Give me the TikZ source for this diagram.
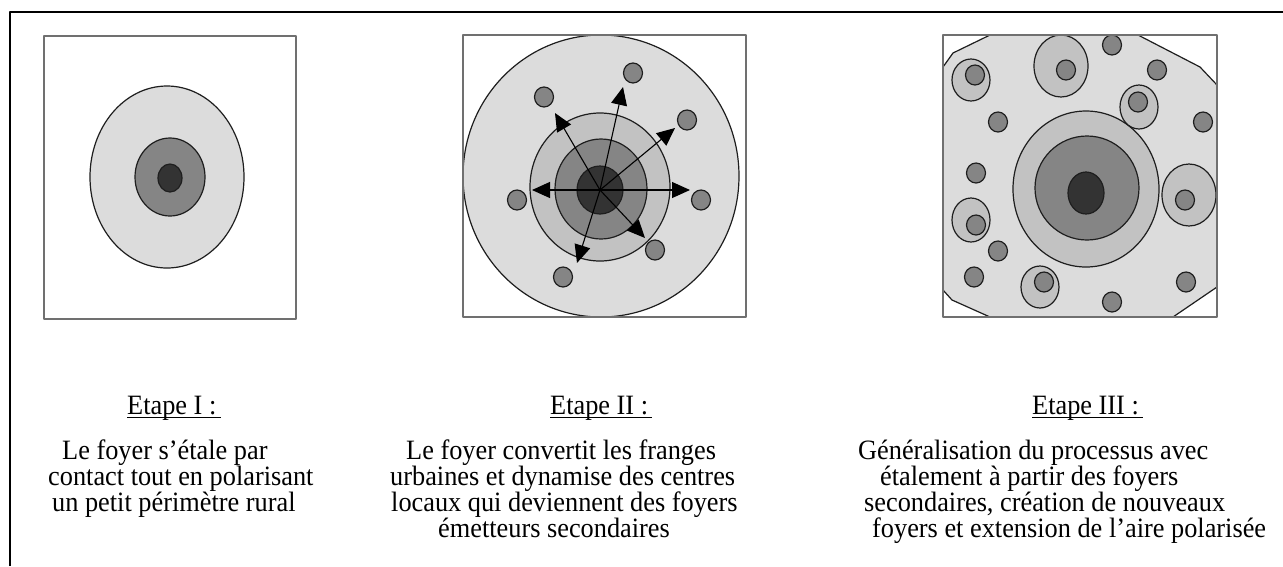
\documentclass[tikz,border=0pt]{standalone}
\usepackage{fontspec}
\setmainfont{Liberation Serif}
\newfontfamily\reffont{Liberation Serif}[FakeStretch=0.94]
\usetikzlibrary{arrows.meta}
\definecolor{cLight}{HTML}{DCDCDC}
\definecolor{cRing}{HTML}{C2C2C2}
\definecolor{cMid}{HTML}{858585}
\definecolor{cDark}{HTML}{333333}
\definecolor{cEdge}{HTML}{1E1E1E}
\definecolor{cBox}{HTML}{707070}
\begin{document}
\begin{tikzpicture}[x=1pt,y=-1pt,line join=round,
  zone/.style={draw=cEdge,line width=1.2pt},
  panelbox/.style={draw=cBox,line width=1.8pt},
  frameline/.style={draw=black,line width=2pt},
  arr/.style={draw=black,line width=1.1pt,-{Triangle[length=18pt,width=16pt]}},
  txt/.style={font=\reffont\fontsize{28}{26}\selectfont,inner sep=0pt,text=black,anchor=base west},
  uline/.style={draw=black,line width=1.2pt}]
\useasboundingbox (0,0) rectangle (1283,566);
\fill[white] (0,0) rectangle (1283,566);
% outer frame (top and left)
\coordinate (fl) at (10,566);
\coordinate (fc) at (10,12);
\coordinate (fr) at (1283,12);
\draw[frameline] (fl) -- (fc) -- (fr);

% ---------- Panel I ----------
\draw[zone,fill=cLight] (167,177) ellipse [x radius=77pt,y radius=91pt];
\draw[zone,fill=cMid] (170,177) ellipse [x radius=35pt,y radius=39pt];
\draw[zone,fill=cDark] (170,178) ellipse [x radius=12pt,y radius=14pt];
\draw[panelbox] (44,36) rectangle (296,319);

% ---------- Panel II ----------
\draw[zone,fill=cLight] (601,176) ellipse [x radius=138pt,y radius=141pt];
\draw[zone,fill=cRing] (600,187) ellipse [x radius=70pt,y radius=74pt];
\draw[zone,fill=cMid] (601,189) ellipse [x radius=46pt,y radius=50pt];
\draw[zone,fill=cDark] (600,190) ellipse [x radius=23pt,y radius=24pt];
\foreach \px/\py in {544/97,633/73,687/120,517/200,701/200,655/250,563/277}
  \draw[zone,fill=cMid] (\px,\py) ellipse [x radius=9.5pt,y radius=10pt];
\coordinate (c2) at (600,190);
\coordinate (aL) at (532,190);
\coordinate (aR) at (690,190);
\coordinate (aUL) at (555,113);
\coordinate (aU) at (623,87);
\coordinate (aUR) at (675,128);
\coordinate (aDR) at (645,238);
\coordinate (aDL) at (577,263);
\foreach \t in {aL,aR,aUL,aU,aUR,aDR,aDL}
  \draw[arr] (c2) -- (\t);
\draw[panelbox] (463,35) rectangle (746,317);

% ---------- Panel III ----------
\draw[zone,fill=cLight] (990,35) -- (1138,35) -- (1200,67) -- (1217,85) -- (1217,287)
  -- (1173,317) -- (990,317) -- (952,300) -- (943,290) -- (943,67) -- (953,53) -- cycle;
\draw[zone,fill=cRing] (1086,189) ellipse [x radius=73pt,y radius=78pt];
\draw[zone,fill=cMid] (1087,188) ellipse [x radius=52pt,y radius=52pt];
\draw[zone,fill=cDark] (1086,193) ellipse [x radius=18pt,y radius=21pt];
\foreach \hx/\hy/\hrx/\hry in {971/80/19/21,1061/66/27/31,1139/107/19/22,1189/195/27/31,971/220/19/22,1040/287/19/21}
  \draw[zone,fill=cRing] (\hx,\hy) ellipse [x radius=\hrx pt,y radius=\hry pt];
\foreach \px/\py in {975/75,1066/70,1112/45,1157/70,1138/102,998/122,1203/122,976/173,1185/200,976/225,998/251,974/277,1044/282,1112/302,1186/282}
  \draw[zone,fill=cMid] (\px,\py) ellipse [x radius=9.5pt,y radius=10pt];
\draw[panelbox] (943,35) rectangle (1217,317);

% ---------- Titles ----------
\node[txt] (t1) at (127,414) {Etape I :};
\node[txt] (t2) at (550,414) {Etape II :};
\node[txt] (t3) at (1032,414) {Etape III :};
\foreach \t in {t1,t2,t3}
  \draw[uline] ([yshift=-3.5pt]\t.base west) -- ([yshift=-3.5pt,xshift=4pt]\t.base east);

% ---------- Texts ----------
\node[txt] (p1a) at (62,459) {Le foyer s’étale par};
\node[txt] (p1b) at (48,485) {contact tout en polarisant};
\node[txt] (p1c) at (52,511) {un petit périmètre rural};

\node[txt] (p2a) at (406,459) {Le foyer convertit les franges};
\node[txt] (p2b) at (390,485) {urbaines et dynamise des centres};
\node[txt] (p2c) at (391,511) {locaux qui deviennent des foyers};
\node[txt] (p2d) at (438,537) {émetteurs secondaires};

\node[txt] (p3a) at (858,459) {Généralisation du processus avec};
\node[txt] (p3b) at (880,485) {étalement à partir des foyers};
\node[txt] (p3c) at (864,511) {secondaires, création de nouveaux};
\node[txt] (p3d) at (872,537) {foyers et extension de l’aire polarisée};
\end{tikzpicture}
\end{document}
